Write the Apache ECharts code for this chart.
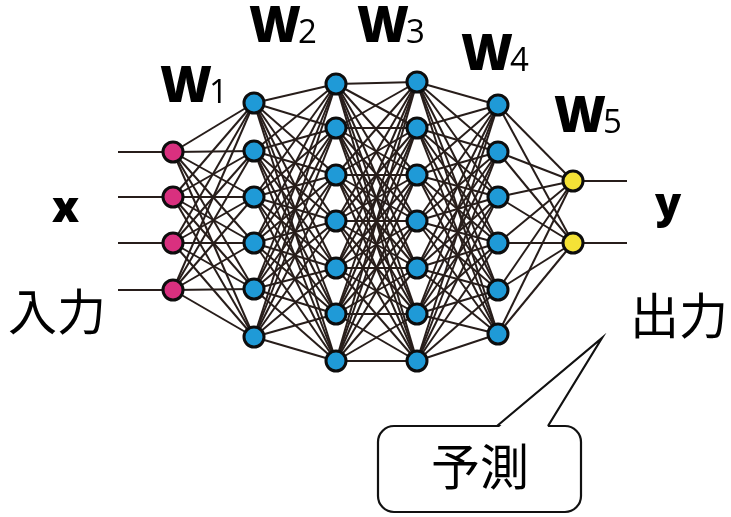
<!DOCTYPE html>
<html>
<head>
<meta charset="utf-8">
<script src="https://cdn.jsdelivr.net/npm/echarts@6/dist/echarts.min.js"></script>
<style>html,body{margin:0;padding:0;background:#fff}#c{width:731px;height:517px}</style>
</head>
<body>
<div id="c"></div>
<script>
// Layer x positions and node y positions (diagram coordinates)
const layerX = [173, 254, 336, 417, 498, 573];
const layerNodeY = [
  [152, 197, 243, 290],
  [103, 151, 197, 243, 289, 337],
  [84, 128, 175, 221, 268, 314, 361],
  [82, 128, 175, 221, 268, 314, 361],
  [105, 152, 197, 243, 290, 334],
  [181, 243]
];
const layerColors = ['#d9307f', '#1f9ad7', '#1f9ad7', '#1f9ad7', '#1f9ad7', '#f4e236'];
const weightDigits = ['1', '2', '3', '4', '5'];
const inputStartX = 118;
const outputEndX = 627;

const chart = echarts.init(document.getElementById('c'), null, {renderer: 'canvas'});

// edges
const edges = [];
for (let l = 0; l < layerX.length - 1; l++) {
  layerNodeY[l].forEach(y1 => {
    layerNodeY[l + 1].forEach(y2 => {
      edges.push({coords: [[layerX[l], y1], [layerX[l + 1], y2]]});
    });
  });
}
const stubs = [];
layerNodeY[0].forEach(y => stubs.push({coords: [[inputStartX, y], [layerX[0], y]]}));
layerNodeY[layerNodeY.length - 1].forEach(y => stubs.push({coords: [[layerX[layerX.length - 1], y], [outputEndX, y]]}));

const nodeSeries = layerNodeY.map((ys, l) => ({
  type: 'scatter',
  symbol: 'circle',
  symbolSize: 20,
  z: 5,
  itemStyle: {color: layerColors[l], borderColor: '#0d0d0d', borderWidth: 3, opacity: 1},
  data: ys.map(y => [layerX[l], y])
}));

// W label positions: [left of W, cap center]
const wPos = [[160, 89], [249, 29], [357, 29], [461, 57], [554, 119]];
const wFont = '800 50px "Open Sans"';
const dFont = '33px "Open Sans"';
const graphics = [];
wPos.forEach((p, i) => {
  graphics.push({type: 'text', x: p[0], y: p[1] - 1, z: 10,
    style: {text: 'W', font: wFont, fill: '#000', align: 'left', verticalAlign: 'middle'}});
  graphics.push({type: 'text', x: p[0] + 49, y: p[1] + 18 - 13, z: 10,
    style: {text: weightDigits[i], font: dFont, fill: '#000', align: 'left', verticalAlign: 'middle'}});
});
graphics.push({type: 'text', x: 52, y: 210, z: 10,
  style: {text: 'x', font: '800 43px "Open Sans"', fill: '#000', align: 'left', verticalAlign: 'middle'}});
graphics.push({type: 'text', x: 655, y: 206, z: 10,
  style: {text: 'y', font: '800 43px "Open Sans"', fill: '#000', align: 'left', verticalAlign: 'middle'}});
graphics.push({type: 'text', x: 8, y: 311, z: 10,
  style: {text: '入力', font: '49px "Noto Sans CJK JP"', fill: '#000', align: 'left', verticalAlign: 'middle'}});
graphics.push({type: 'text', x: 630, y: 315, z: 10,
  style: {text: '出力', font: '49px "Noto Sans CJK JP"', fill: '#000', align: 'left', verticalAlign: 'middle'}});
// callout
graphics.push({type: 'rect', z: 10, shape: {x: 378, y: 426, width: 203, height: 86, r: 16},
  style: {fill: '#fff', stroke: '#111', lineWidth: 2.2}});
graphics.push({type: 'polygon', z: 11, shape: {points: [[498, 428], [602, 338], [547, 428]]},
  style: {fill: '#fff', stroke: null}});
graphics.push({type: 'polyline', z: 12, shape: {points: [[497, 426], [602, 338], [548, 426]]},
  style: {fill: null, stroke: '#111', lineWidth: 2.2}});
graphics.push({type: 'text', x: 431, y: 466, z: 13,
  style: {text: '予測', font: '49px "Noto Sans CJK JP"', fill: '#000', align: 'left', verticalAlign: 'middle'}});

chart.setOption({
  animation: false,
  backgroundColor: '#fff',
  grid: {left: 0, right: 0, top: 0, bottom: 0},
  xAxis: {type: 'value', min: 0, max: 731, show: false},
  yAxis: {type: 'value', min: 0, max: 517, inverse: true, show: false},
  series: [
    {type: 'lines', coordinateSystem: 'cartesian2d', z: 1, silent: true,
      lineStyle: {color: '#271d1a', width: 2, opacity: 1}, data: edges},
    {type: 'lines', coordinateSystem: 'cartesian2d', z: 1, silent: true,
      lineStyle: {color: '#271d1a', width: 2.2, opacity: 1}, data: stubs}
  ].concat(nodeSeries),
  graphic: graphics
});
</script>
</body>
</html>
